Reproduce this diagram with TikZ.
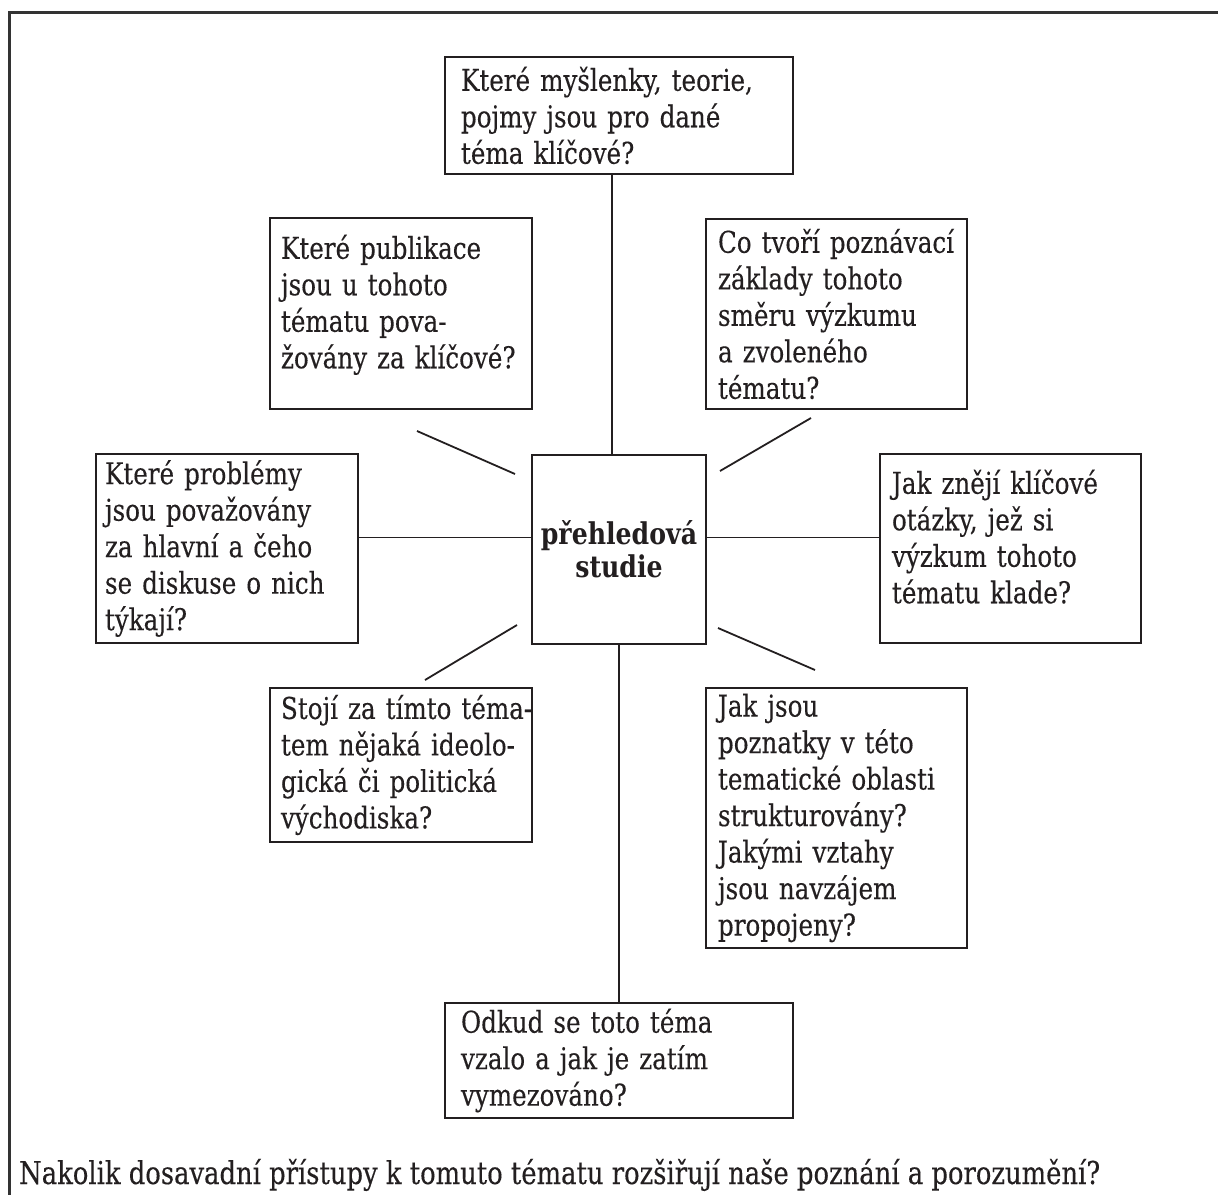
\documentclass[tikz,border=0pt]{standalone}
\usepackage{fontspec}
\setmainfont{DejaVu Serif}[FakeStretch=0.82, FakeBold=0.25]
\newfontfamily\ctrfam{DejaVu Serif}[FakeStretch=0.84]
\usetikzlibrary{calc}
\definecolor{ink}{HTML}{231F20}
\definecolor{framec}{HTML}{333333}
\newcommand{\txtsize}{\fontsize{30}{36.5}\selectfont}
\begin{document}
\begin{tikzpicture}[x=1pt,y=-1pt,
  box/.style={draw=ink, line width=2pt, align=left, inner ysep=0pt, font=\txtsize, text=ink},
  conn/.style={draw=ink, line width=1.8pt}]
\useasboundingbox (0,0) rectangle (1218,1194);
\clip (0,0) rectangle (1218,1194);

% outer frame (open at right and bottom)
\draw[framec, line width=3pt] (1240,12) -- (9,12) -- (9,1210);

% boxes
\node[box, minimum width=348pt, minimum height=117pt, inner xsep=16pt, text width=316pt] (top) at (619,115.5)
  {Které myšlenky, teorie,\\ pojmy jsou pro dané\\ téma klíčové?};
\node[box, minimum width=262pt, minimum height=191pt, inner xsep=11pt, text width=240pt] (pub) at (401,313.5)
  {Které publikace\\ jsou u tohoto\\ tématu pova-\\ žovány za klíčové?\\[-12.5pt] \mbox{}};
\node[box, minimum width=261pt, minimum height=190pt, inner xsep=12pt, text width=237pt] (zakl) at (836.5,314)
  {Co tvoří poznávací\\ základy tohoto\\ směru výzkumu\\ a zvoleného\\ tématu?};
\node[box, minimum width=262pt, minimum height=189pt, inner xsep=9pt, text width=244pt] (prob) at (227,548.5)
  {Které problémy\\ jsou považovány\\ za hlavní a čeho\\ se diskuse o nich\\ týkají?};
\node[box, minimum width=174pt, minimum height=189pt, align=center, inner xsep=4pt, font=\fontsize{30}{33}\selectfont\ctrfam\bfseries] (c) at (619,549)
  {přehledová\\ studie};
\node[box, minimum width=261pt, minimum height=189pt, inner xsep=12pt, text width=237pt] (otaz) at (1010.5,548.5)
  {Jak znějí klíčové\\ otázky, jež si\\ výzkum tohoto\\ tématu klade?\\[-12.5pt] \mbox{}};
\node[box, minimum width=262pt, minimum height=154pt, inner xsep=11pt, text width=240pt] (ideo) at (401,765)
  {\makebox[240pt][s]{Stojí za tímto téma-}\\ \makebox[240pt][s]{tem nějaká ideolo-}\\ gická či politická\\ východiska?};
\node[box, minimum width=261pt, minimum height=260pt, inner xsep=12pt, text width=237pt] (struk) at (836.5,818)
  {Jak jsou\\ poznatky v této\\ tematické oblasti\\ strukturovány?\\ Jakými vztahy\\ jsou navzájem\\ propojeny?};
\node[box, minimum width=348pt, minimum height=115pt, inner xsep=16pt, text width=316pt] (odk) at (619,1060.5)
  {Odkud se toto téma\\ vzalo a jak je zatím\\ vymezováno?};

% bottom text
\node[anchor=base west, inner sep=0pt, font=\fontsize{31.5}{36.5}\selectfont, text=ink] (nak) at (19,1184)
  {Nakolik dosavadní přístupy k tomuto tématu rozšiřují naše poznání a porozumění?};

% connectors
\draw[conn] ([xshift=-7pt]c.north) -- ([xshift=-7pt]c.north |- top.south);
\draw[conn] (c.south) -- (c.south |- odk.north);
\draw[conn] ([yshift=11.5pt]c.west) -- ([yshift=11.5pt]c.west -| prob.east);
\draw[conn] ([yshift=11.5pt]c.east) -- ([yshift=11.5pt]c.east -| otaz.west);

% free diagonal strokes
\coordinate (d1a) at (417,431); \coordinate (d1b) at (515,474);
\coordinate (d2a) at (811,418); \coordinate (d2b) at (720,471);
\coordinate (d3a) at (425,680); \coordinate (d3b) at (517,625);
\coordinate (d4a) at (718,628); \coordinate (d4b) at (815,670);
\draw[conn] (d1a) -- (d1b);
\draw[conn] (d2a) -- (d2b);
\draw[conn] (d3a) -- (d3b);
\draw[conn] (d4a) -- (d4b);
\end{tikzpicture}
\end{document}
